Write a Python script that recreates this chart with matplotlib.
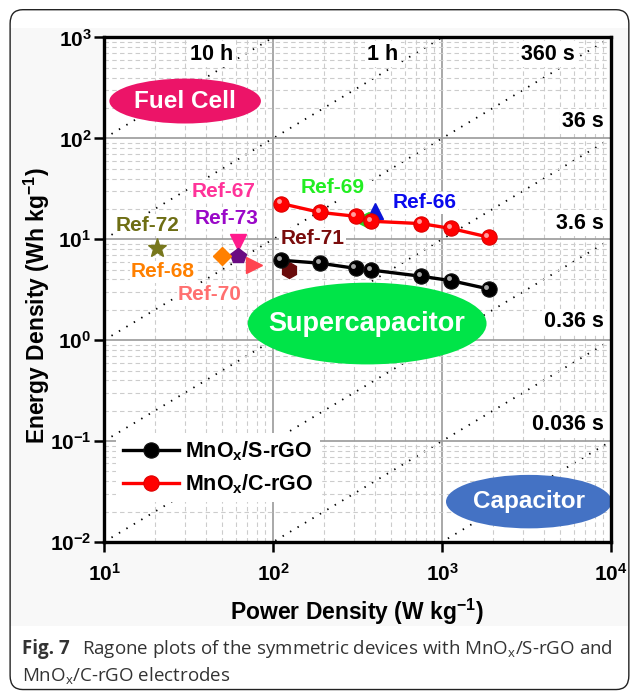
import numpy as np
import matplotlib
matplotlib.use("Agg")
import matplotlib.pyplot as plt
from matplotlib.patches import Ellipse, FancyBboxPatch, Rectangle
from matplotlib.transforms import offset_copy

plt.rcParams['font.family'] = ['Liberation Sans', 'DejaVu Sans']
plt.rcParams['font.weight'] = 'bold'

# measured devices
power = [112, 189, 308, 380, 754, 1133, 1888]
energy_s = [6.2, 5.8, 5.15, 4.96, 4.3, 3.89, 3.22]
energy_c = [22.6, 18.5, 16.9, 15.1, 14.3, 12.8, 10.5]

# literature points
ref_names = ['Ref-66', 'Ref-69', 'Ref-67', 'Ref-73', 'Ref-72', 'Ref-68', 'Ref-70', 'Ref-71']
ref_power = [400, 331, 62, 62, 20.5, 50, 77, 124]
ref_energy = [19.2, 15.6, 9.5, 6.8, 8.2, 6.9, 5.6, 5.0]
ref_markers = ['^', '<', 'v', 'p', '*', 'D', '>', 'h']
ref_mcolors = ['#0a14d8', '#1ed81e', '#ff1a8c', '#6a0a82', '#77771c', '#ff8000', '#ff4450', '#6a0c0c']
ref_tcolors = ['#0a0aee', '#22ee22', '#ff3399', '#9a08c8', '#6e6e14', '#ff8000', '#ff7070', '#7a0c0c']
ref_label_pos = [(0.633, 0.6725), (0.4517, 0.7017), (0.2367, 0.6955), (0.242, 0.642),
                 (0.0868, 0.6283), (0.1164, 0.5352), (0.209, 0.4896), (0.4116, 0.6006)]

# constant discharge-time lines (hours) and their labels
times_h = [10, 1, 0.1, 0.01, 0.001, 1e-4, 1e-5]
time_labels = ['10 h', '1 h', '360 s', '36 s', '3.6 s', '0.36 s', '0.036 s']
time_label_pos = [(0.213, 0.967, 'center'), (0.550, 0.967, 'center'), (0.876, 0.967, 'center'),
                  (0.986, 0.833, 'right'), (0.986, 0.632, 'right'), (0.986, 0.437, 'right'),
                  (0.986, 0.232, 'right')]

fig = plt.figure(figsize=(6.32, 6.93), dpi=100)
fig.patch.set_facecolor('white')

# panel frame and caption
fig.patches.append(Rectangle((0.016, 0.097), 0.978, 0.862, transform=fig.transFigure,
                             facecolor='#f8f8f8', edgecolor='none', zorder=-2))
fig.patches.append(FancyBboxPatch((0.016, 0.005), 0.979, 0.981, transform=fig.transFigure,
                                  boxstyle='round,pad=0,rounding_size=0.02',
                                  facecolor='none', edgecolor='#222222', lw=1.0, zorder=-1))
cap_kw = dict(fontsize=13.5, family='Open Sans', color='#333333', va='center')
fig.text(0.035, 0.064, 'Fig. 7', fontweight='bold', **cap_kw)
fig.text(0.129, 0.064, r'Ragone plots of the symmetric devices with $\mathdefault{MnO_{x}}$/S-rGO and',
         fontweight='normal', **cap_kw)
fig.text(0.035, 0.025, r'$\mathdefault{MnO_{x}}$/C-rGO electrodes', fontweight='normal', **cap_kw)

ax = fig.add_axes([0.1646, 0.2179, 0.8022, 0.728])
ax.set_facecolor('white')
ax.set_xscale('log')
ax.set_yscale('log')
ax.set_xlim(10, 1e4)
ax.set_ylim(1e-2, 1e3)

ax.grid(True, which='major', color='#9a9a9a', lw=1.2, ls='-', zorder=0)
ax.grid(True, which='minor', color='#cccccc', lw=0.8, ls=(0, (4, 3)), zorder=0)

p_line = np.array([10, 1e4])
for t in times_h:
    ax.plot(p_line, t * p_line, color='black', lw=1.3, ls=(0, (0.8, 4)), zorder=1)

for (x, y, ha), lab in zip(time_label_pos, time_labels):
    ax.text(x, y, lab, transform=ax.transAxes, ha=ha, va='center', fontsize=15.5,
            fontweight='bold', color='black', zorder=3,
            bbox=dict(facecolor='white', edgecolor='none', pad=1.5))

# region ellipses
regions = [('Fuel Cell', (0.160, 0.874), 0.299, 0.089, '#ec1468', 17.5),
           ('Supercapacitor', (0.519, 0.433), 0.471, 0.162, '#00e448', 19.5),
           ('Capacitor', (0.838, 0.080), 0.327, 0.106, '#4472c4', 17.5)]
for name, c, w, h, col, fs in regions:
    ax.add_patch(Ellipse(c, w, h, transform=ax.transAxes, facecolor=col,
                         edgecolor='none', zorder=4))
    ax.text(c[0], c[1], name, transform=ax.transAxes, ha='center', va='center',
            color='white', fontsize=fs, fontweight='bold', zorder=5)

# reference labels and markers
for name, pw, en, mk, mc, tc, pos in zip(ref_names, ref_power, ref_energy, ref_markers,
                                         ref_mcolors, ref_tcolors, ref_label_pos):
    size = 14 if mk == '*' else (9 if mk == 'D' else 11.5)
    ax.plot(pw, en, marker=mk, color=mc, ms=size, mec=mc, ls='none', zorder=7)
    ax.text(pos[0], pos[1], name, transform=ax.transAxes, ha='center', va='center',
            color=tc, fontsize=15, fontweight='bold', zorder=6,
            bbox=dict(facecolor='white', edgecolor='none', pad=1.0))

# sphere-like markers for the two devices
hl = offset_copy(ax.transData, fig=fig, x=-1.6, y=1.6, units='points')
for en, col, edge, shine, lab in [(energy_s, 'black', '#111111', '#bbbbbb', r'$\mathdefault{MnO_{x}}$/S-rGO'),
                                  (energy_c, '#ff0000', '#dd0000', '#ffb0b0', r'$\mathdefault{MnO_{x}}$/C-rGO')]:
    ax.plot(power, en, color=col, lw=2.4, marker='o', ms=11, mfc=col, mec=edge,
            mew=0.8, zorder=8, label=lab)
    ax.plot(power, en, ls='none', marker='o', ms=3.5, mfc=shine, mec='none',
            alpha=0.9, transform=hl, zorder=9)

leg = ax.legend(loc='upper left', bbox_to_anchor=(0.003, 0.238), frameon=True,
                facecolor='white', edgecolor='none', framealpha=1, fancybox=False,
                handlelength=2.6, handletextpad=0.3, borderpad=0.3, labelspacing=0.45,
                prop={'size': 15.5, 'weight': 'bold'})
leg.set_zorder(10)

for s in ax.spines.values():
    s.set_linewidth(2.4)
    s.set_color('black')
    s.set_zorder(11)
ax.tick_params(which='major', direction='out', length=7, width=1.8, labelsize=15)
ax.tick_params(axis='x', which='major', pad=8)
ax.tick_params(axis='y', which='major', pad=2)
ax.tick_params(which='minor', length=0)
for lbl in ax.get_xticklabels() + ax.get_yticklabels():
    lbl.set_fontweight('bold')

ax.set_xlabel(r'Power Density (W kg$^{\mathdefault{-1}}$)', fontsize=16.5, fontweight='bold')
ax.set_ylabel(r'Energy Density (Wh kg$^{\mathdefault{-1}}$)', fontsize=16.5, fontweight='bold')
ax.xaxis.set_label_coords(0.499, -0.108)
ax.yaxis.set_label_coords(-0.102, 0.468)

fig.savefig('out.png', dpi=100)
